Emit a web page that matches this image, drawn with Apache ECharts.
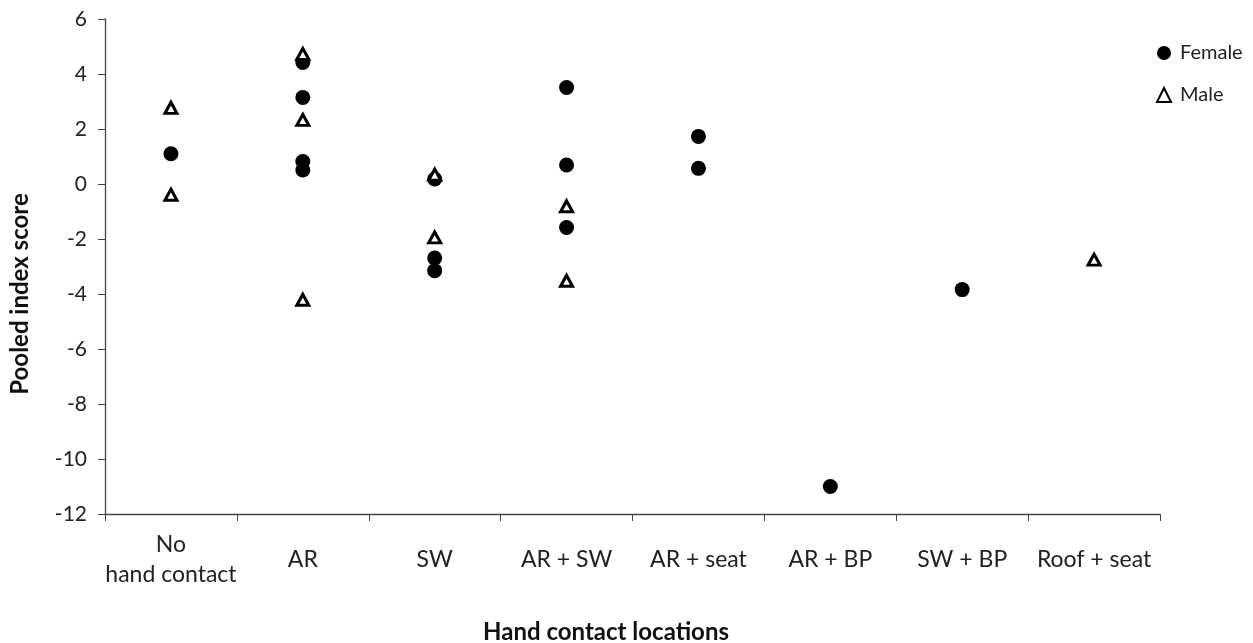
<!DOCTYPE html>
<html>
<head>
<meta charset="utf-8">
<script src="https://cdn.jsdelivr.net/npm/echarts@6/dist/echarts.min.js"></script>
<style>
  html, body { margin: 0; padding: 0; background: #fff; }
  #chart { width: 1253px; height: 643px; }
</style>
</head>
<body>
<div id="chart"></div>
<script>
// categories on the x axis
var categories = ['No\nhand contact', 'AR', 'SW', 'AR + SW', 'AR + seat', 'AR + BP', 'SW + BP', 'Roof + seat'];

// female points: category index + pooled index score
var femaleCat   = [0,   1,    1,    1,    1,    2,    2,     2,     3,    3,    3,     4,    4,    5,     6];
var femaleScore = [1.1, 4.42, 3.15, 0.82, 0.51, 0.18, -2.69, -3.15, 3.51, 0.69, -1.58, 1.73, 0.57, -11.0, -3.84];

// male points
var maleCat   = [0,    0,     1,    1,    1,     2,    2,     3,     3,     7];
var maleScore = [2.77, -0.39, 4.73, 2.33, -4.21, 0.34, -1.94, -0.81, -3.52, -2.75];

// y axis
var yMin = -12, yMax = 6, yStep = 2;

var font = 'Lato, "Open Sans", sans-serif';
var axisColor = '#444';

function pairs(cats, vals) {
  var out = [];
  for (var i = 0; i < cats.length; i++) {
    out.push([cats[i], vals[i]]);
  }
  return out;
}

var chart = echarts.init(document.getElementById('chart'));

var option = {
  animation: false,
  grid: { left: 105, right: 93, top: 19, bottom: 129 },
  legend: {
    orient: 'vertical',
    left: 1151,
    top: 38,
    itemGap: 22,
    itemWidth: 14,
    itemHeight: 14,
    textStyle: { fontFamily: font, fontSize: 20, color: '#222', padding: [0, 0, 0, 4] },
    data: ['Female', 'Male']
  },
  // axis titles placed by hand, like the original
  graphic: [
    {
      type: 'text',
      x: 606, y: 632,
      style: {
        text: 'Hand contact locations',
        font: 'bold 24px ' + font,
        fill: '#111',
        align: 'center',
        verticalAlign: 'middle'
      }
    },
    {
      type: 'text',
      x: 20, y: 294,
      rotation: Math.PI / 2,
      style: {
        text: 'Pooled index score',
        font: 'bold 24px ' + font,
        fill: '#111',
        align: 'center',
        verticalAlign: 'middle'
      }
    }
  ],
  xAxis: {
    type: 'category',
    data: categories,
    boundaryGap: true,
    axisLine: { onZero: false, lineStyle: { color: axisColor, width: 1.3 } },
    axisTick: { show: true, length: 7, inside: false, lineStyle: { color: axisColor } },
    axisLabel: {
      margin: 46,
      verticalAlign: 'middle',
      lineHeight: 30,
      interval: 0,
      fontFamily: font,
      fontSize: 23,
      color: '#222'
    },
    splitLine: { show: false }
  },
  yAxis: {
    type: 'value',
    min: yMin,
    max: yMax,
    interval: yStep,
    axisLine: { show: true, lineStyle: { color: axisColor, width: 1.3 } },
    axisTick: { show: true, length: 7, lineStyle: { color: axisColor } },
    axisLabel: { margin: 18, fontFamily: font, fontSize: 21, color: '#222' },
    splitLine: { show: false }
  },
  series: [
    {
      name: 'Female',
      type: 'scatter',
      symbol: 'circle',
      symbolSize: 15,
      itemStyle: { color: '#000', opacity: 1 },
      data: pairs(femaleCat, femaleScore)
    },
    {
      name: 'Male',
      type: 'scatter',
      symbol: 'triangle',
      symbolSize: [12, 11],
      itemStyle: { color: '#fff', borderColor: '#000', borderWidth: 3, opacity: 1 },
      data: pairs(maleCat, maleScore)
    }
  ]
};

chart.setOption(option);
</script>
</body>
</html>
